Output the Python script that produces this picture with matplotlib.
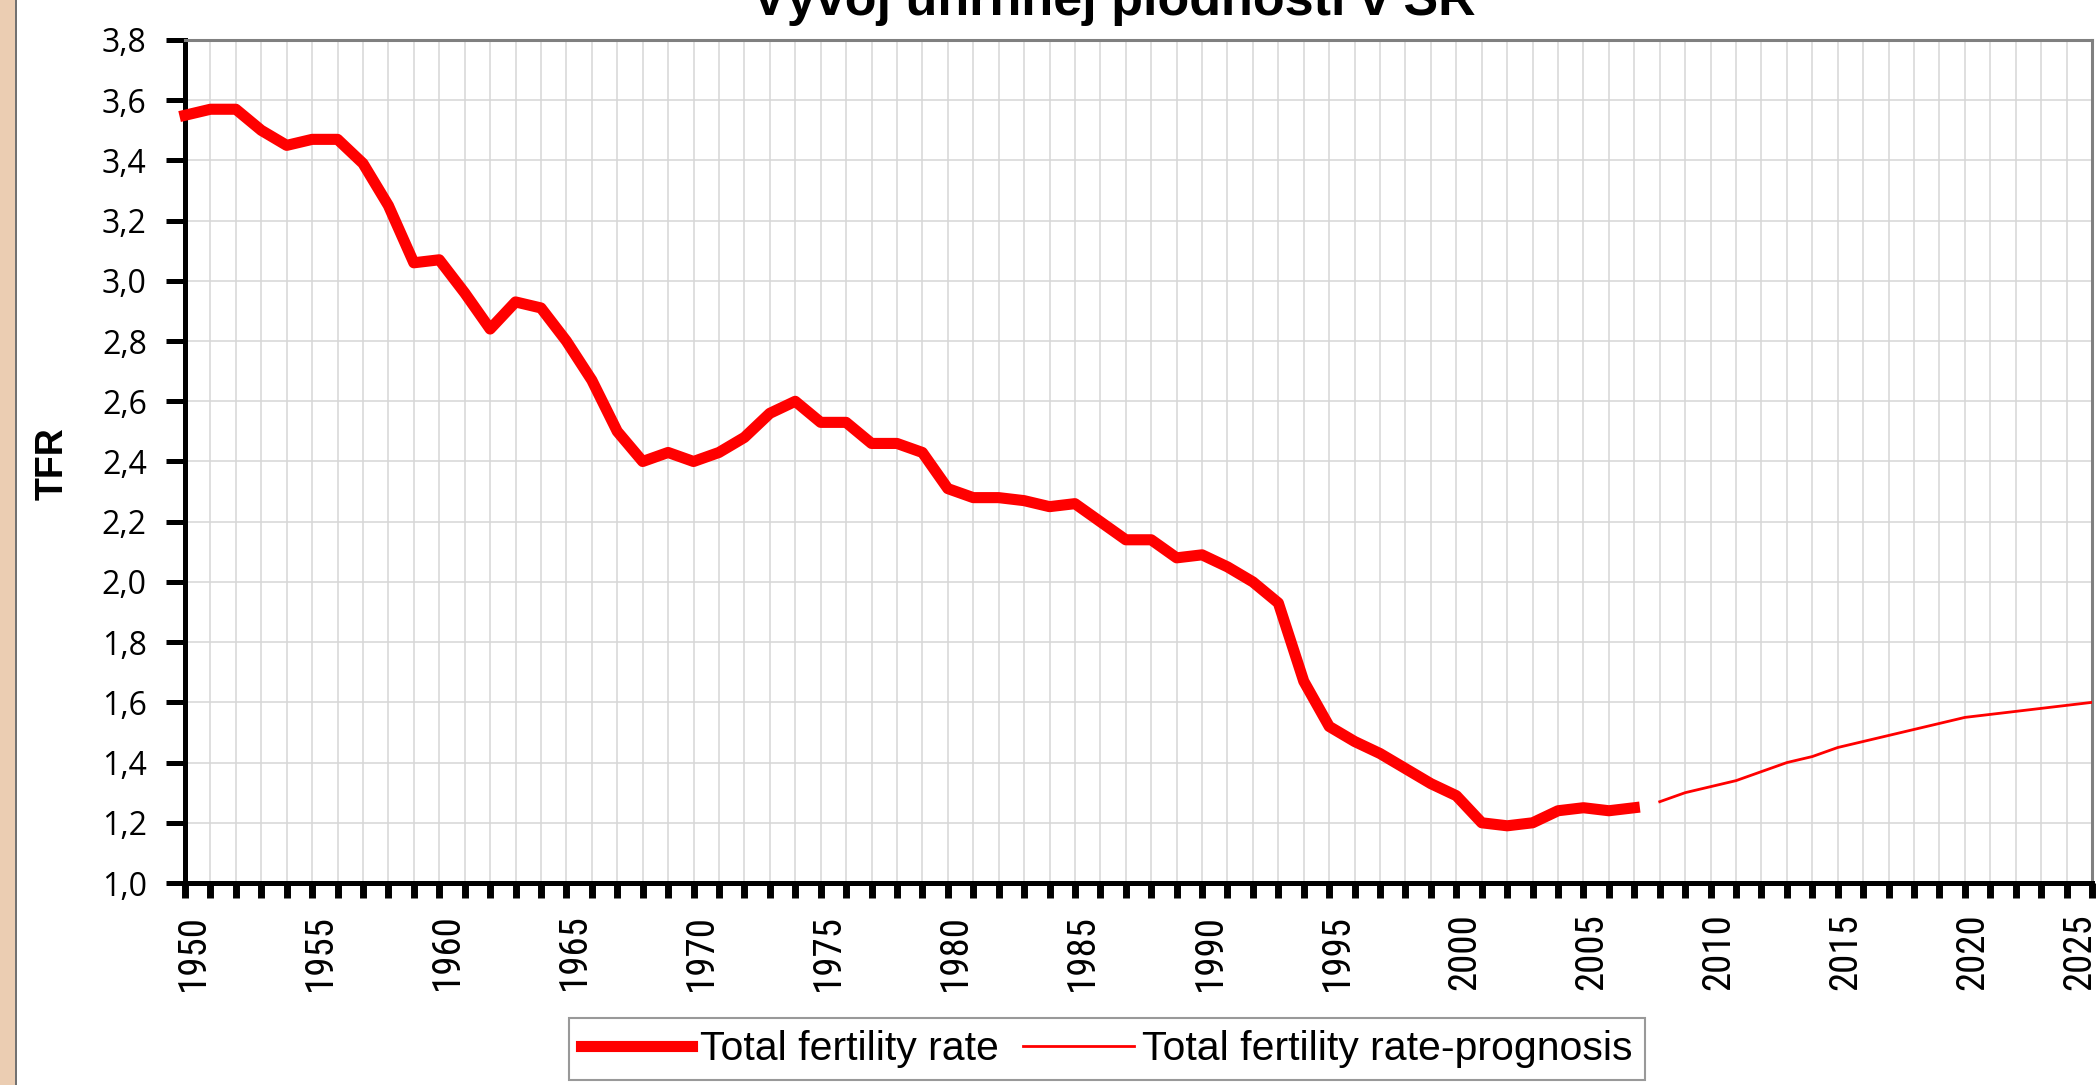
import matplotlib
matplotlib.use("Agg")
from matplotlib import pyplot as plt
from matplotlib.patches import Rectangle
from matplotlib.lines import Line2D
from matplotlib.transforms import ScaledTranslation

# Data - total fertility rate, Slovakia
years_hist = list(range(1950, 2008))
tfr_hist = [3.55, 3.57, 3.57, 3.50, 3.45, 3.47, 3.47, 3.39, 3.25, 3.06,
            3.07, 2.96, 2.84, 2.93, 2.91, 2.80, 2.67, 2.50, 2.40, 2.43,
            2.40, 2.43, 2.48, 2.56, 2.60, 2.53, 2.53, 2.46, 2.46, 2.43,
            2.31, 2.28, 2.28, 2.27, 2.25, 2.26, 2.20, 2.14, 2.14, 2.08,
            2.09, 2.05, 2.00, 1.93, 1.67, 1.52, 1.47, 1.43, 1.38, 1.33,
            1.29, 1.20, 1.19, 1.20, 1.24, 1.25, 1.24, 1.25]

years_prog = list(range(2008, 2026))
tfr_prog = [1.27, 1.30, 1.32, 1.34, 1.37, 1.40, 1.42, 1.45, 1.47, 1.49,
            1.51, 1.53, 1.55, 1.56, 1.57, 1.58, 1.59, 1.60]

y_ticks = [1.0, 1.2, 1.4, 1.6, 1.8, 2.0, 2.2, 2.4, 2.6, 2.8, 3.0, 3.2, 3.4, 3.6, 3.8]
x_years = list(range(1950, 2026))
x_labels = [str(y) if y % 5 == 0 else "" for y in x_years]

title = "Vývoj úhrnnej plodnosti v SR"
label_hist = "Total fertility rate"
label_prog = "Total fertility rate-prognosis"

W, H = 2097, 1085
fig = plt.figure(figsize=(W / 100, H / 100), dpi=100)
ax = fig.add_axes([185 / W, 1 - 883 / H, (2092 - 185) / W, (883 - 40) / H])

ax.plot(years_hist, tfr_hist, color="#FF0000", lw=8, label=label_hist,
        solid_joinstyle="round", zorder=3, clip_on=False)
ax.plot(years_prog, tfr_prog, color="#FF0000", lw=2, label=label_prog, zorder=3)

ax.set_xlim(1950, 2025)
ax.set_ylim(1.0, 3.8)

ax.set_yticks(y_ticks)
ax.set_yticklabels([("%.1f" % v).replace(".", ",") for v in y_ticks],
                   fontsize=23, family=["Open Sans", "DejaVu Sans"])
ax.set_xticks(x_years)
ax.set_xticklabels(x_labels, rotation=90, fontsize=28, fontstretch="condensed",
                   family=["Roboto Condensed", "Liberation Sans Narrow",
                           "Noto Sans", "DejaVu Sans"])

ax.tick_params(axis="y", direction="out", length=13.5, width=3.6, pad=14, color="black")
ax.tick_params(axis="x", direction="out", length=11, width=5, pad=11, color="black")

# labels sit a little right of their ticks, last one kept inside the picture
xlabs = ax.get_xticklabels()
for i, lab in enumerate(xlabs):
    dx = 8 if i < len(xlabs) - 1 else -12
    lab.set_transform(lab.get_transform() + ScaledTranslation(dx / 100, 0, fig.dpi_scale_trans))

ax.grid(True, color="#D6D6D6", lw=1.1)
ax.set_axisbelow(True)

for s in ["left", "bottom"]:
    ax.spines[s].set_linewidth(3.6)
    ax.spines[s].set_color("black")
for s in ["top", "right"]:
    ax.spines[s].set_linewidth(2.2)
    ax.spines[s].set_color("#808080")

# title (cut off at the top like the original)
fig.text(1114 / W, 1 - 15 / H, title, ha="center", va="baseline",
         fontsize=37.5, fontweight="bold", family="Liberation Sans")

fig.text(53 / W, 1 - 464 / H, "TFR", rotation=90, ha="center", va="center",
         fontsize=27, fontweight="bold", family="Liberation Sans")

# tan strip on the left edge
fig.add_artist(Rectangle((0, 0), 15 / W, 1, transform=fig.transFigure,
                         facecolor="#EBCDB2", edgecolor="none"))
fig.add_artist(Line2D([16 / W, 16 / W], [0, 1], transform=fig.transFigure,
                      color="#555555", lw=1.2))

leg = fig.legend(loc="center", bbox_to_anchor=(1107 / W, 1 - 1049 / H), ncol=2,
                 frameon=True, fancybox=False,
                 prop={"family": "Liberation Sans", "size": 29.5},
                 handlelength=2.7, handletextpad=0.2, columnspacing=0.6,
                 borderpad=0.3, borderaxespad=0)
leg.get_frame().set_edgecolor("#808080")
leg.get_frame().set_linewidth(1.5)

fig.savefig("out.png", dpi=100)
